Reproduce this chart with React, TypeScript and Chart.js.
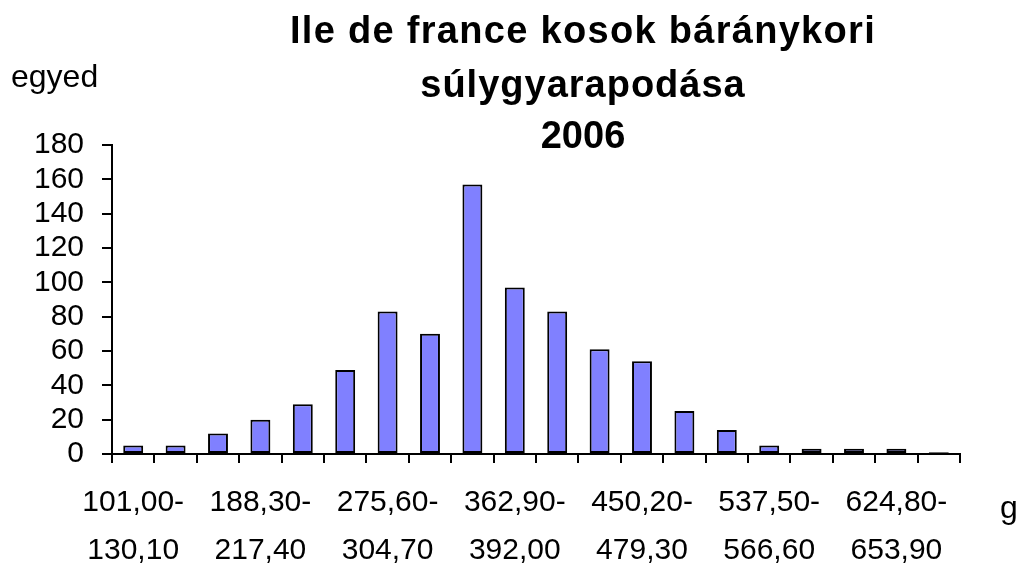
import React, { useEffect, useRef } from "react";
import { Chart, registerables } from "chart.js";

Chart.register(...registerables);

const titleLines = ["Ile de france kosok báránykori", "súlygyarapodása", "2006"];
const yAxisTitle = "egyed";
const xAxisTitle = "g";

const categories: string[][] = [
  ["101,00-", "130,10"],
  ["130,10-", "159,20"],
  ["159,20-", "188,30"],
  ["188,30-", "217,40"],
  ["217,40-", "246,50"],
  ["246,50-", "275,60"],
  ["275,60-", "304,70"],
  ["304,70-", "333,80"],
  ["333,80-", "362,90"],
  ["362,90-", "392,00"],
  ["392,00-", "421,10"],
  ["421,10-", "450,20"],
  ["450,20-", "479,30"],
  ["479,30-", "508,40"],
  ["508,40-", "537,50"],
  ["537,50-", "566,60"],
  ["566,60-", "595,70"],
  ["595,70-", "624,80"],
  ["624,80-", "653,90"],
  ["653,90-", "683,00"],
];

const counts = [5, 5, 12, 20, 29, 49, 83, 70, 157, 97, 83, 61, 54, 25, 14, 5, 3, 3, 3, 1];

const yTicks = [0, 20, 40, 60, 80, 100, 120, 140, 160, 180];
const labelEvery = 3;

const FONT = "'Liberation Sans', Arial, sans-serif";

const textPlugin = {
  id: "customTexts",
  afterDraw(chart: any) {
    const ctx = chart.ctx;
    ctx.save();
    ctx.fillStyle = "#000";
    ctx.textBaseline = "alphabetic";
    ctx.textAlign = "center";
    ctx.font = `bold 38px ${FONT}`;
    const baselines = [43, 97, 148];
    const spacing = ["1.3px", "1px", "0px"];
    titleLines.forEach((t, i) => {
      (ctx as any).letterSpacing = spacing[i];
      ctx.fillText(t, 583, baselines[i]);
    });
    (ctx as any).letterSpacing = "0px";
    ctx.textAlign = "left";
    ctx.font = `32px ${FONT}`;
    ctx.fillText(yAxisTitle, 11, 87);
    ctx.fillText(xAxisTitle, 1000, 518);
    ctx.restore();
  },
};

export default function App() {
  const ref = useRef<HTMLCanvasElement>(null);
  useEffect(() => {
    if (!ref.current) return;
    const chart = new Chart(ref.current, {
      type: "bar",
      data: {
        labels: categories,
        datasets: [
          {
            data: counts,
            backgroundColor: "#8080FF",
            borderColor: "#000000",
            borderWidth: 2,
            borderSkipped: false,
            barPercentage: 0.47,
            categoryPercentage: 1,
          },
        ],
      },
      options: {
        animation: false,
        responsive: false,
        events: [],
        layout: { padding: { top: 145, left: 0, right: 62, bottom: 0 } },
        plugins: {
          legend: { display: false },
          title: { display: false },
          tooltip: { enabled: false },
        },
        scales: {
          x: {
            grid: {
              offset: true,
              drawOnChartArea: false,
              drawTicks: true,
              tickLength: 9,
              color: "#000",
              lineWidth: 2,
            },
            border: { display: true, color: "#000", width: 2 },
            ticks: {
              autoSkip: false,
              maxRotation: 0,
              minRotation: 0,
              padding: 16,
              color: "#000",
              font: { family: FONT, size: 30, lineHeight: 1.6 },
              callback: (_v: any, i: number) => (i % labelEvery === 0 ? categories[i] : ""),
            },
            afterFit: (s: any) => {
              s.height = 111;
            },
          },
          y: {
            min: yTicks[0],
            max: yTicks[yTicks.length - 1],
            grid: {
              drawOnChartArea: false,
              drawTicks: true,
              tickLength: 10,
              color: "#000",
              lineWidth: 2,
            },
            border: { display: true, color: "#000", width: 2 },
            afterBuildTicks: (s: any) => {
              s.ticks = yTicks.map((v) => ({ value: v }));
            },
            ticks: {
              autoSkip: false,
              stepSize: 20,
              padding: 18,
              color: "#000",
              font: { family: FONT, size: 30 },
            },
            afterFit: (s: any) => {
              s.width = 112;
            },
          },
        },
      },
      plugins: [textPlugin],
    });
    return () => chart.destroy();
  }, []);
  return (
    <div style={{ position: "absolute", left: 0, top: 0, width: 1022, height: 565, background: "#fff" }}>
      <canvas ref={ref} width={1022} height={565} style={{ display: "block" }} />
    </div>
  );
}
